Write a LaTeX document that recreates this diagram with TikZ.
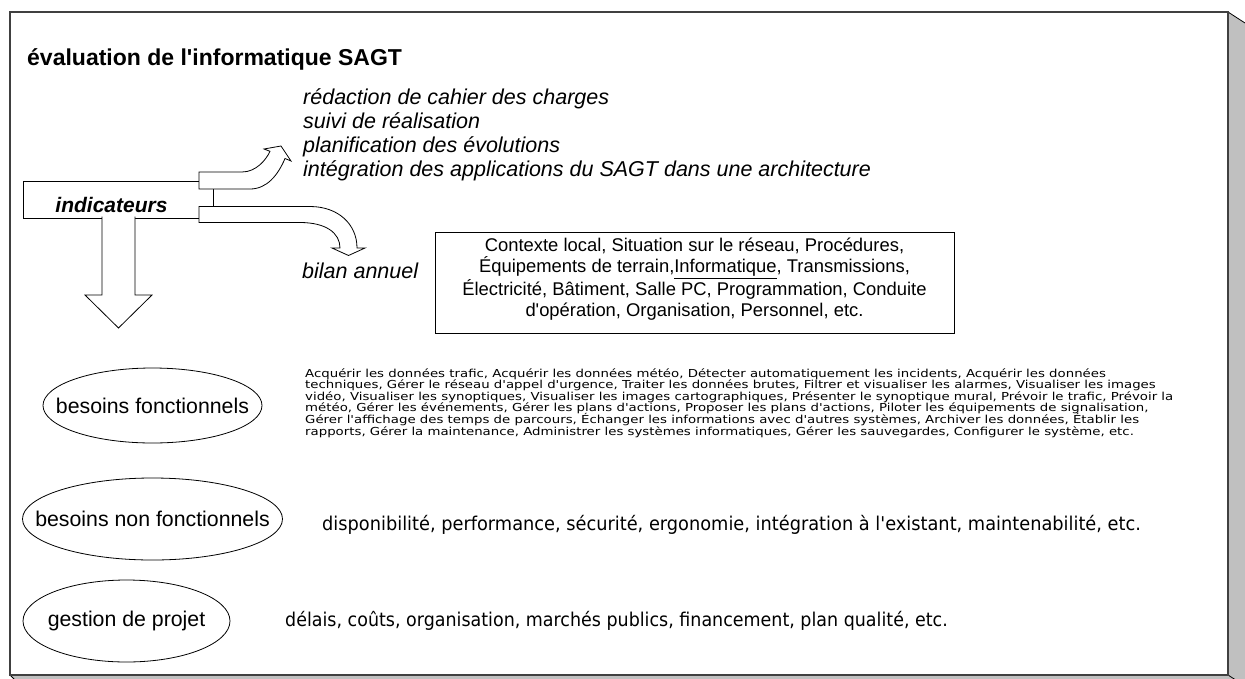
\documentclass[tikz,border=0pt]{standalone}
\usepackage{fontspec}
\setmainfont{Liberation Sans}
\newfontfamily\dejavu{DejaVu Sans}
\usetikzlibrary{positioning}
\usetikzlibrary{shapes.geometric}
\definecolor{shadowgray}{RGB}{192,192,192}
\definecolor{framegray}{RGB}{64,64,64}
\newcommand{\apos}{\textquotesingle}

\tikzset{
  blockarrow/.style={draw=black, fill=white, line width=0.8pt},
  lbl/.style={anchor=base west, inner sep=0pt},
  ell/.style={ellipse, draw=black, line width=0.8pt, inner sep=0pt},
  every label/.style={font=\fontsize{21.3}{24}\selectfont, inner sep=0pt},
}

\begin{document}
\begin{tikzpicture}[x=1pt, y=-1pt]
\useasboundingbox (0,0) rectangle (1245,678);
\clip (0,0) rectangle (1245,678);
% cadre avec ombre
\filldraw[fill=shadowgray, draw=black, line width=0.8pt] (1228,12) -- (1245,23) -- (1252,23) -- (1252,692) -- (27,692) -- (10,675) -- cycle;
\draw[line width=0.8pt] (1228,675) -- (1245,686);
\draw[fill=white, draw=framegray, line width=1.3pt] (10,12) rectangle (1228,675);

\node[lbl, font=\bfseries\fontsize{23}{27}\selectfont] (title) at (27,65) {évaluation de l\apos informatique SAGT};

% indicateurs et fleches
\draw[fill=white, line width=0.8pt] (23,181) rectangle (213,218);
\node[anchor=base, inner sep=0pt, font=\bfseries\itshape\fontsize{21}{24}\selectfont] (ind) at (111.5,212) {indicateurs};
\filldraw[blockarrow] (102,216.5) -- (102,295) -- (85,295) -- (118.5,328) -- (152,295) -- (135,295) -- (135,216.5);
\draw[blockarrow] (199,172) -- (242,172) .. controls (256,172) and (266,160) .. (270,151.3) -- (264,149) -- (281,146) -- (291,161) -- (285,158.5) .. controls (278,175) and (267,189) .. (250,189) -- (199,189) -- cycle;
\draw[blockarrow] (199,206.5) -- (310,206.5) .. controls (338,206.5) and (357,224) .. (357,248) -- (365,248) -- (348.5,255.5) -- (332,248) -- (340,248) .. controls (340,233) and (326,222.5) .. (300,222.5) -- (199,222.5) -- cycle;

\foreach \txt [count=\i] in {rédaction de cahier des charges, suivi de réalisation, planification des évolutions, intégration des applications du SAGT dans une architecture}
  \node[lbl, font=\itshape\fontsize{21.5}{24}\selectfont] (act\i) at (303,{80+24*\i}) {\txt};
\node[lbl, font=\itshape\fontsize{21.5}{24}\selectfont] (bilan) at (302,278) {bilan annuel};

% contexte
\node[draw=black, line width=0.8pt, minimum width=519pt, minimum height=101pt, inner sep=0pt] (ctx) at (694.5,282.5) {};
\node[anchor=north, align=center, inner sep=0pt, font=\fontsize{18.4}{20.8}\selectfont] (ctxtxt) at ([yshift=-6.4pt]ctx.north)
  {Contexte local, Situation sur le réseau, Procédures,\\
   Équipements de terrain,\underline{Informatique}, Transmissions,\\
   Électricité, Bâtiment, Salle PC, Programmation, Conduite\\
   d\apos opération, Organisation, Personnel, etc.};

% besoins
\node[ell, minimum width=219pt, minimum height=75pt, label=center:besoins fonctionnels] (bf) at (152.5,405.5) {};
\node[ell, minimum width=260pt, minimum height=82pt, label=center:besoins non fonctionnels] (bnf) at (152.5,519) {};
\node[ell, minimum width=207pt, minimum height=82pt, label=center:gestion de projet] (gp) at (126.5,621) {};

\foreach \txt [count=\i] in {
  {Acquérir les données trafic, Acquérir les données météo, Détecter automatiquement les incidents, Acquérir les données},
  {techniques, Gérer le réseau d\apos appel d\apos urgence, Traiter les données brutes, Filtrer et visualiser les alarmes, Visualiser les images},
  {vidéo, Visualiser les synoptiques, Visualiser les images cartographiques, Présenter le synoptique mural, Prévoir le trafic, Prévoir la},
  {météo, Gérer les événements, Gérer les plans d\apos actions, Proposer les plans d\apos actions, Piloter les équipements de signalisation,},
  {Gérer l\apos affichage des temps de parcours, Échanger les informations avec d\apos autres systèmes, Archiver les données, Établir les},
  {rapports, Gérer la maintenance, Administrer les systèmes informatiques, Gérer les sauvegardes, Configurer le système, etc.}}
  \node[lbl, font=\dejavu\fontsize{11}{13}\selectfont] (fn\i) at (305,{365.5+11.6*\i}) {\scalebox{1.21}[1]{\txt}};

\node[lbl, font=\dejavu\fontsize{19}{22}\selectfont] (nfl) at (322,530) {\scalebox{0.935}[1]{disponibilité, performance, sécurité, ergonomie, intégration à l\apos existant, maintenabilité, etc.}};
\node[lbl, font=\dejavu\fontsize{19}{22}\selectfont] (gpl) at (285,626) {\scalebox{0.92}[1]{délais, coûts, organisation, marchés publics, financement, plan qualité, etc.}};
\end{tikzpicture}
\end{document}
